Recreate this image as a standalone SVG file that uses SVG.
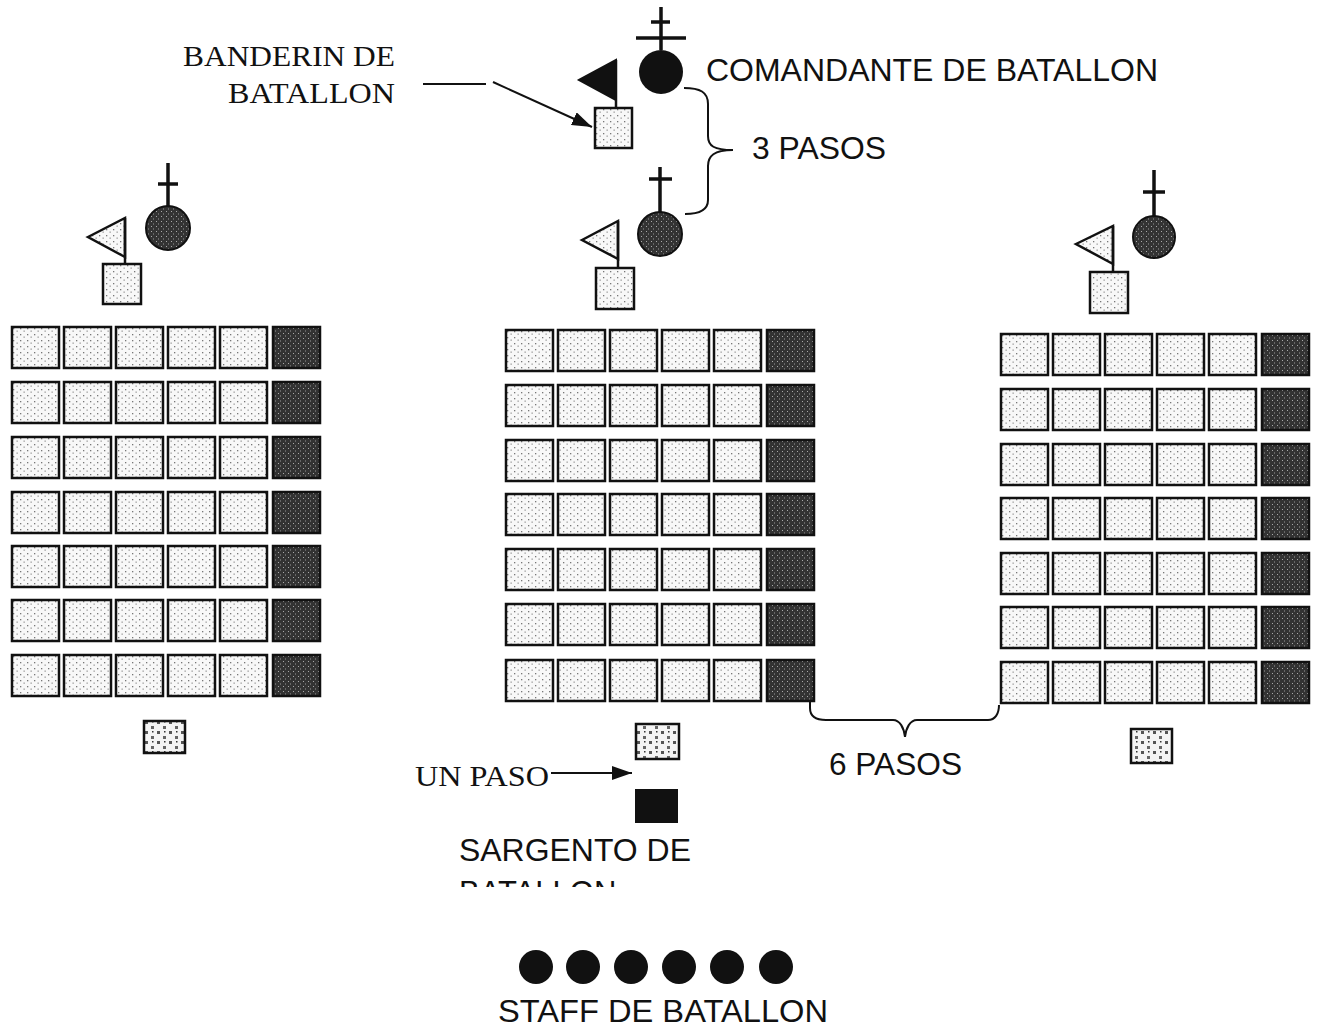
<svg xmlns="http://www.w3.org/2000/svg" xmlns:xlink="http://www.w3.org/1999/xlink" width="1318" height="1030" viewBox="0 0 1318 1030">
<style>
.sans{font-family:"Liberation Sans",Arial,sans-serif;font-size:31px;fill:#111}
.serif{font-family:"Liberation Serif","Times New Roman",serif;font-size:29px;fill:#111}
.cell{fill:url(#dots);stroke:#111;stroke-width:2.5}
.dcell{fill:url(#dark);stroke:#111;stroke-width:2.5}
.flag{fill:url(#dots);stroke:#111;stroke-width:2.5;stroke-linejoin:miter}
.pole{stroke:#111;stroke-width:2.5;fill:none}
.cross{stroke:#111;stroke-width:3.5;fill:none}
.cmd{fill:url(#dark);stroke:#111;stroke-width:2}
.conn{stroke:#111;stroke-width:2;fill:none}
.chk{fill:url(#chk);stroke:#111;stroke-width:2.5}
</style>
<defs>
<pattern id="dots" width="7" height="6" patternUnits="userSpaceOnUse">
<rect width="7" height="6" fill="#f8f8f8"/>
<rect x="1" y="1" width="1.3" height="1.3" fill="#777"/>
<rect x="4.5" y="3.5" width="1.3" height="1.3" fill="#999"/>
</pattern>
<pattern id="dark" width="5" height="5" patternUnits="userSpaceOnUse">
<rect width="5" height="5" fill="#333"/>
<rect x="1" y="1" width="1" height="1" fill="#aaa"/>
<rect x="3" y="3.5" width="1" height="1" fill="#999"/>
</pattern>
<pattern id="chk" width="12" height="10" patternUnits="userSpaceOnUse">
<rect width="12" height="10" fill="#f4f4f4"/>
<rect x="1" y="1" width="3" height="3" fill="#555"/>
<rect x="7" y="6" width="3" height="3" fill="#666"/>
<rect x="8" y="1" width="1.5" height="1.5" fill="#333"/>
</pattern>
<g id="row">
<rect class="cell" x="0" y="0" width="47" height="41"/>
<rect class="cell" x="52" y="0" width="47" height="41"/>
<rect class="cell" x="104" y="0" width="47" height="41"/>
<rect class="cell" x="156" y="0" width="47" height="41"/>
<rect class="cell" x="208" y="0" width="47" height="41"/>
<rect class="dcell" x="261" y="0" width="47" height="41"/>
</g>
<marker id="ah" viewBox="0 0 20 14" refX="20" refY="7" markerWidth="20" markerHeight="14" markerUnits="userSpaceOnUse" orient="auto">
<path d="M0,0 L20,7 L0,14 Z" fill="#111"/>
</marker>
<clipPath id="clipB"><rect x="400" y="860" width="400" height="27"/></clipPath>
</defs>

<g id="battalion-commander">
<line class="cross" x1="661" y1="7" x2="661" y2="50"/>
<line class="cross" x1="651" y1="22" x2="670" y2="22"/>
<line class="cross" x1="636" y1="38" x2="686" y2="38"/>
<circle cx="661" cy="72" r="22" fill="#111"/>
<text class="sans" x="706" y="81" textLength="452" lengthAdjust="spacingAndGlyphs">COMANDANTE DE BATALLON</text>
</g>

<g id="battalion-flag">
<polygon points="579,80 616,60 616,100" fill="#111" stroke="#111" stroke-width="2"/>
<line class="pole" x1="616" y1="60" x2="616" y2="108"/>
<rect class="cell" x="595" y="108" width="37" height="40"/>
<text class="serif" x="395" y="66" text-anchor="end" textLength="212" lengthAdjust="spacingAndGlyphs">BANDERIN DE</text>
<text class="serif" x="395" y="103" text-anchor="end" textLength="167" lengthAdjust="spacingAndGlyphs">BATALLON</text>
</g>

<g id="company-left">
<polygon class="flag" points="88,237 125,218 125,257"/>
<line class="pole" x1="125" y1="218" x2="125" y2="264"/>
<rect class="cell" x="103" y="264" width="38" height="40"/>
<line class="cross" x1="168" y1="163" x2="168" y2="207"/>
<line class="cross" x1="158" y1="184" x2="178" y2="184"/>
<circle class="cmd" cx="168" cy="228" r="22"/>
<use xlink:href="#row" transform="translate(12,327)"/>
<use xlink:href="#row" transform="translate(12,382)"/>
<use xlink:href="#row" transform="translate(12,437)"/>
<use xlink:href="#row" transform="translate(12,492)"/>
<use xlink:href="#row" transform="translate(12,546)"/>
<use xlink:href="#row" transform="translate(12,600)"/>
<use xlink:href="#row" transform="translate(12,655)"/>
<rect class="chk" x="144" y="721" width="41" height="32"/>
</g>

<g id="company-center">
<polygon class="flag" points="582,240 618,221 618,259"/>
<line class="pole" x1="618" y1="221" x2="618" y2="268"/>
<rect class="cell" x="596" y="268" width="38" height="41"/>
<line class="cross" x1="660" y1="167" x2="660" y2="212"/>
<line class="cross" x1="649" y1="179" x2="672" y2="179"/>
<circle class="cmd" cx="660" cy="234" r="22"/>
<use xlink:href="#row" transform="translate(506,330)"/>
<use xlink:href="#row" transform="translate(506,385)"/>
<use xlink:href="#row" transform="translate(506,440)"/>
<use xlink:href="#row" transform="translate(506,494)"/>
<use xlink:href="#row" transform="translate(506,549)"/>
<use xlink:href="#row" transform="translate(506,604)"/>
<use xlink:href="#row" transform="translate(506,660)"/>
<rect class="chk" x="636" y="724" width="43" height="35"/>
</g>

<g id="company-right">
<polygon class="flag" points="1076,244 1113,226 1113,264"/>
<line class="pole" x1="1113" y1="226" x2="1113" y2="272"/>
<rect class="cell" x="1090" y="272" width="38" height="41"/>
<line class="cross" x1="1154" y1="170" x2="1154" y2="216"/>
<line class="cross" x1="1143" y1="192" x2="1165" y2="192"/>
<circle class="cmd" cx="1154" cy="237" r="21"/>
<use xlink:href="#row" transform="translate(1001,334)"/>
<use xlink:href="#row" transform="translate(1001,389)"/>
<use xlink:href="#row" transform="translate(1001,444)"/>
<use xlink:href="#row" transform="translate(1001,498)"/>
<use xlink:href="#row" transform="translate(1001,553)"/>
<use xlink:href="#row" transform="translate(1001,607)"/>
<use xlink:href="#row" transform="translate(1001,662)"/>
<rect class="chk" x="1131" y="729" width="41" height="34"/>
</g>

<g id="battalion-sergeant">
<rect x="635" y="789" width="43" height="34" fill="#111"/>
<text class="sans" x="459" y="861" textLength="232" lengthAdjust="spacingAndGlyphs">SARGENTO DE</text>
<text class="sans" x="459" y="903" clip-path="url(#clipB)">BATALLON</text>
</g>

<g id="battalion-staff">
<circle cx="536" cy="967" r="17" fill="#111"/>
<circle cx="583" cy="967" r="17" fill="#111"/>
<circle cx="631" cy="967" r="17" fill="#111"/>
<circle cx="679" cy="967" r="17" fill="#111"/>
<circle cx="727" cy="967" r="17" fill="#111"/>
<circle cx="776" cy="967" r="17" fill="#111"/>
<text class="sans" x="498" y="1022" textLength="330" lengthAdjust="spacingAndGlyphs">STAFF DE BATALLON</text>
</g>

<g id="connectors">
<line class="conn" x1="423" y1="84" x2="486" y2="84"/>
<line class="conn" x1="493" y1="82" x2="592" y2="127" marker-end="url(#ah)"/>
<path class="conn" d="M684,88 C700,88 708,92 708,104 L708,136 C708,146 714,150 733,150 C714,150 708,156 708,166 L708,200 C708,210 700,214 685,214"/>
<path class="conn" d="M810,702 L810,708 C810,716 816,720 826,720 L893,720 C900,720 904,728 905,737 C906,728 910,720 917,720 L988,720 C995,720 999,714 999,705"/>
<line class="conn" x1="551" y1="773" x2="632" y2="773" marker-end="url(#ah)"/>
<text class="sans" x="752" y="159" textLength="134" lengthAdjust="spacingAndGlyphs">3 PASOS</text>
<text class="sans" x="829" y="775" textLength="133" lengthAdjust="spacingAndGlyphs">6 PASOS</text>
<text class="serif" x="415" y="786" textLength="134" lengthAdjust="spacingAndGlyphs">UN PASO</text>
</g>
</svg>
